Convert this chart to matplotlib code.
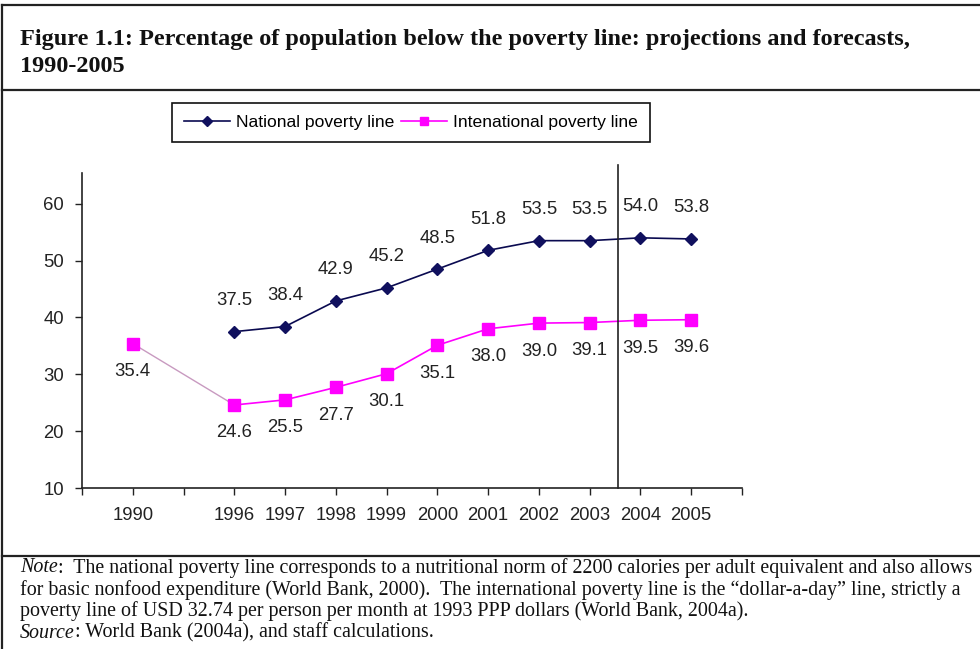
import matplotlib
matplotlib.use("Agg")
import matplotlib.pyplot as plt
from matplotlib.lines import Line2D

# Category axis: 1990, an empty slot, then 1996-2005
categories = ["1990", "", "1996", "1997", "1998", "1999", "2000",
              "2001", "2002", "2003", "2004", "2005"]
national = [None, None, 37.5, 38.4, 42.9, 45.2, 48.5, 51.8, 53.5, 53.5, 54.0, 53.8]
international = [35.4, None, 24.6, 25.5, 27.7, 30.1, 35.1, 38.0, 39.0, 39.1, 39.5, 39.6]
y_ticks = [10, 20, 30, 40, 50, 60]
forecast_split = 9.55  # boundary between projections and forecasts

W, H = 980, 649
fig = plt.figure(figsize=(W / 100, H / 100), dpi=100)
fig.patch.set_facecolor("white")

sans = "Liberation Sans"
serif = "Liberation Serif"
px = 72 / 100  # points per pixel

def fx(x):
    return x / W

def fy(y):
    return 1 - y / H

# Page frame lines
frame_kw = dict(color="#222222", lw=1.6, transform=fig.transFigure)
fig.add_artist(Line2D([fx(2), 1], [fy(5), fy(5)], **frame_kw))
fig.add_artist(Line2D([fx(2), fx(2)], [fy(5), 0], **frame_kw))
fig.add_artist(Line2D([fx(2), 1], [fy(90), fy(90)], **frame_kw))
fig.add_artist(Line2D([fx(2), 1], [fy(556), fy(556)], **frame_kw))

# Title
title_size = 24.3 * px
fig.text(fx(20), fy(40), "Figure 1.1: Percentage of population below the poverty line: projections and forecasts,",
         family=serif, weight="bold", fontsize=title_size, va="center", ha="left", color="#111111")
fig.text(fx(20), fy(67), "1990-2005",
         family=serif, weight="bold", fontsize=title_size, va="center", ha="left", color="#111111")

# Chart
ax = fig.add_axes([fx(82), fy(488), fx(742) - fx(82), fy(173) - fy(488)])
ax.set_facecolor("none")
x_pos = list(range(len(categories)))

nat_x = [x for x, v in zip(x_pos, national) if v is not None]
nat_y = [v for v in national if v is not None]
int_x = [x for x, v in zip(x_pos, international) if v is not None]
int_y = [v for v in international if v is not None]

navy = "#0a0a50"
magenta = "#ff00ff"

ax.plot(nat_x, nat_y, color=navy, lw=1.2, marker="D", markersize=6,
        markerfacecolor="#10105e", markeredgecolor="#10105e", zorder=3)
# Link across the empty slot is drawn faint
ax.plot(int_x[:2], int_y[:2], color="#c89ac0", lw=1.0, zorder=2)
ax.plot(int_x[1:], int_y[1:], color=magenta, lw=1.2, zorder=2)
ax.plot(int_x, int_y, ls="none", marker="s", markersize=9,
        markerfacecolor=magenta, markeredgecolor=magenta, zorder=3)

lab_size = 18.5 * px
label_kw = dict(family=sans, fontsize=lab_size, color="#222222", ha="center", va="center")
for x, v in zip(nat_x, nat_y):
    ax.annotate(f"{v:.1f}", (x, v), xytext=(0, 31 * px), textcoords="offset points", **label_kw)
for x, v in zip(int_x, int_y):
    ax.annotate(f"{v:.1f}", (x, v), xytext=(0, -28 * px), textcoords="offset points", **label_kw)

ax.plot([forecast_split, forecast_split], [10, 66.8], color="#222222", lw=1.2, clip_on=False, zorder=4)

ax.set_xlim(-1, 12)
ax.set_ylim(10, 65.4)
ax.set_xticks(range(-1, 13))
ax.set_xticklabels([""] + categories + [""])
ax.set_yticks(y_ticks)
ax.set_yticklabels([str(t) for t in y_ticks])
for s in ["top", "right"]:
    ax.spines[s].set_visible(False)
for s in ["left", "bottom"]:
    ax.spines[s].set_color("#222222")
    ax.spines[s].set_linewidth(1.2)
ax.tick_params(axis="x", direction="out", length=5, width=1, color="#222222", pad=12 * px)
ax.tick_params(axis="y", direction="out", length=5, width=1, color="#222222", pad=11 * px)
for lab in ax.get_xticklabels() + ax.get_yticklabels():
    lab.set_family(sans)
    lab.set_fontsize(lab_size)
    lab.set_color("#222222")

# Legend
handles = [
    Line2D([], [], color=navy, lw=1.2, marker="D", markersize=5,
           markerfacecolor="#10105e", markeredgecolor="#10105e"),
    Line2D([], [], color=magenta, lw=1.2, marker="s", markersize=6,
           markerfacecolor=magenta, markeredgecolor=magenta),
]
leg = fig.legend(handles, ["National poverty line", "Intenational poverty line"],
                 loc="center", bbox_to_anchor=(fx(411), fy(122.5)), ncol=2,
                 frameon=True, fancybox=False, edgecolor="#111111", framealpha=1,
                 prop={"family": sans, "size": 17.5 * px}, handlelength=2.6,
                 handletextpad=0.35, columnspacing=0.4, borderpad=0.7,
                 borderaxespad=0)
leg.get_frame().set_linewidth(1.2)

# Note and source
note_size = 20 * px
note_lines = [
    ("Note", ":  The national poverty line corresponds to a nutritional norm of 2200 calories per adult equivalent and also allows"),
    ("", "for basic nonfood expenditure (World Bank, 2000).  The international poverty line is the \u201cdollar-a-day\u201d line, strictly a"),
    ("", "poverty line of USD 32.74 per person per month at 1993 PPP dollars (World Bank, 2004a)."),
    ("Source", ": World Bank (2004a), and staff calculations."),
]
note_y = [568, 590, 611, 633]
fig.canvas.draw()
renderer = fig.canvas.get_renderer()
for (lead, rest), y in zip(note_lines, note_y):
    x0 = fx(20)
    if lead:
        t = fig.text(x0, fy(y), lead, family=serif, style="italic", fontsize=note_size,
                     va="center", ha="left", color="#111111")
        bb = t.get_window_extent(renderer)
        x0 = bb.x1 / fig.bbox.width
    fig.text(x0, fy(y), rest, family=serif, fontsize=note_size,
             va="center", ha="left", color="#111111")

fig.savefig("out.png", dpi=100, facecolor="white")
